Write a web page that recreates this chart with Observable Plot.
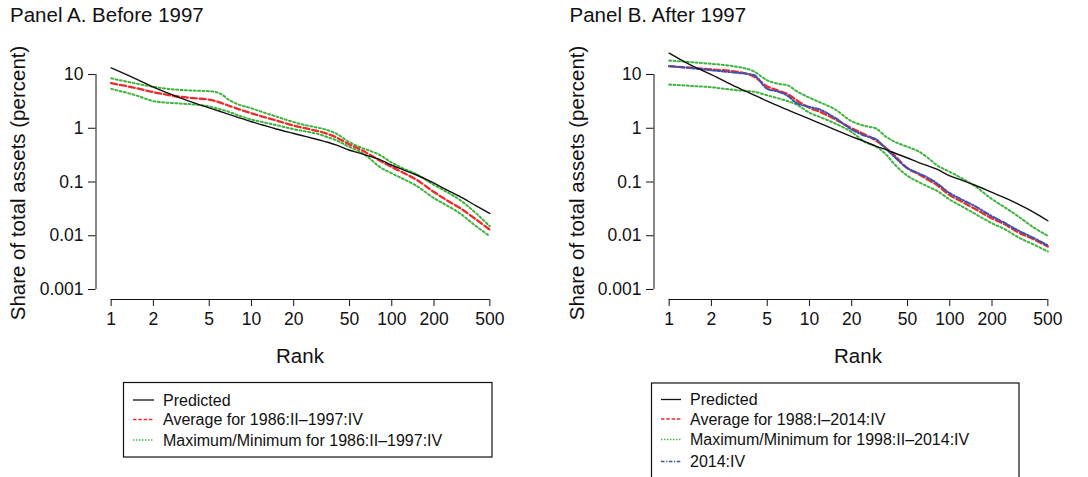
<!DOCTYPE html>
<html>
<head>
<meta charset="utf-8">
<script src="https://cdn.jsdelivr.net/npm/d3@7"></script>
<script src="https://cdn.jsdelivr.net/npm/@observablehq/plot@0.6"></script>
<style>
  body { margin: 0; background: white; }
  #root { position: relative; width: 1088px; height: 477px; overflow: hidden; background: white; }
  #A, #B { position: absolute; top: 0; }
  #A { left: 0; }
  #B { left: 544px; }
  #overlay { position: absolute; left: 0; top: 0; pointer-events: none; }
  svg text { font-family: "Liberation Sans", Arial, Helvetica, sans-serif; }
</style>
</head>
<body>
<div id="root">
  <div id="A"></div>
  <div id="B"></div>
  <svg id="overlay" width="1088" height="477"></svg>
</div>
<script>
// ---- data ----
const ranks = [1, 1.5, 2, 3, 4, 5, 6, 7, 8, 10, 12, 15, 20, 25, 30, 35, 40, 50, 60, 70, 80, 100, 120, 150, 200, 250, 300, 400, 500];

const predictedA = [13.3, 8.3, 5.8, 3.8, 2.9, 2.4, 2.05, 1.8, 1.6, 1.32, 1.15, 0.97, 0.8, 0.69, 0.61, 0.55, 0.49, 0.39, 0.34, 0.3, 0.27, 0.205, 0.17, 0.135, 0.095, 0.07, 0.055, 0.036, 0.026];
const averageA   = [6.9, 5.6, 4.7, 3.9, 3.6, 3.4, 3.0, 2.6, 2.3, 1.9, 1.65, 1.4, 1.12, 0.98, 0.88, 0.78, 0.68, 0.5, 0.4, 0.32, 0.26, 0.19, 0.15, 0.11, 0.065, 0.045, 0.034, 0.02, 0.013];
const maxA       = [8.5, 6.8, 5.9, 5.2, 5.0, 4.9, 4.4, 3.3, 2.8, 2.35, 2.0, 1.65, 1.3, 1.12, 1.02, 0.92, 0.8, 0.55, 0.44, 0.38, 0.33, 0.23, 0.18, 0.14, 0.088, 0.064, 0.048, 0.026, 0.015];
const minA       = [5.4, 4.1, 3.2, 2.9, 2.75, 2.55, 2.25, 2.0, 1.75, 1.45, 1.3, 1.15, 0.96, 0.86, 0.78, 0.68, 0.6, 0.45, 0.36, 0.27, 0.2, 0.145, 0.115, 0.085, 0.05, 0.036, 0.027, 0.015, 0.0098];

const predictedB = [25, 14, 10, 5.9, 4.2, 3.2, 2.6, 2.2, 1.9, 1.5, 1.22, 0.95, 0.7, 0.56, 0.46, 0.4, 0.35, 0.28, 0.23, 0.2, 0.175, 0.13, 0.11, 0.088, 0.064, 0.05, 0.04, 0.027, 0.019];
const averageB   = [14.3, 13.2, 12.4, 11.3, 9.2, 6.0, 5.0, 4.3, 3.4, 2.4, 2.0, 1.5, 1.0, 0.76, 0.58, 0.43, 0.32, 0.18, 0.14, 0.11, 0.09, 0.057, 0.044, 0.032, 0.021, 0.016, 0.012, 0.0085, 0.0063];
const latestB    = [14.3, 13.0, 12.0, 10.8, 9.8, 5.4, 4.8, 4.0, 3.0, 2.5, 2.2, 1.6, 0.95, 0.72, 0.62, 0.42, 0.3, 0.18, 0.145, 0.12, 0.097, 0.062, 0.048, 0.036, 0.023, 0.017, 0.013, 0.009, 0.0066];
const maxB       = [18.2, 16.8, 15.8, 14.0, 11.5, 7.8, 6.7, 6.3, 5.0, 3.7, 3.0, 2.3, 1.35, 1.1, 0.98, 0.7, 0.57, 0.45, 0.37, 0.28, 0.21, 0.155, 0.12, 0.085, 0.048, 0.033, 0.024, 0.014, 0.01];
const minB       = [6.5, 6.1, 5.8, 5.1, 4.8, 4.1, 3.6, 3.2, 2.8, 1.95, 1.6, 1.25, 0.85, 0.55, 0.45, 0.33, 0.22, 0.13, 0.1, 0.082, 0.07, 0.047, 0.036, 0.026, 0.017, 0.013, 0.0097, 0.0068, 0.0051];

const xTicks = [1, 2, 5, 10, 20, 50, 100, 200, 500];
const xTickLabels = ["1", "2", "5", "10", "20", "50", "100", "200", "500"];
const yTicks = [0.001, 0.01, 0.1, 1, 10];
const yTickLabels = ["0.001", "0.01", "0.1", "1", "10"];

const titles = ["Panel A. Before 1997", "Panel B. After 1997"];
const xLabel = "Rank";
const yLabel = "Share of total assets (percent)";
const legendA = ["Predicted", "Average for 1986:II\u20131997:IV", "Maximum/Minimum for 1986:II\u20131997:IV"];
const legendB = ["Predicted", "Average for 1988:I\u20132014:IV", "Maximum/Minimum for 1998:II\u20132014:IV", "2014:IV"];

// ---- styles ----
const COL = { black: "#111", red: "#ee2a2a", green: "#3db53d", blue: "#3a52b0" };
const STY = {
  predicted: { stroke: COL.black, strokeWidth: 1.4 },
  average:   { stroke: COL.red, strokeWidth: 2.3, strokeDasharray: "6,3" },
  minmax:    { stroke: COL.green, strokeWidth: 2, strokeDasharray: "2,2.4" },
  latest:    { stroke: COL.blue, strokeWidth: 2, strokeDasharray: "5,2,1.5,2" }
};

const pad = 0.108; // R's 4% axis extension, in decades of rank
const xDomain = [Math.pow(10, -pad), 500 * Math.pow(10, pad)];
const yDomain = [Math.pow(10, -3.186), Math.pow(10, 1.819)];

function toRows(vals) { return ranks.map((r, i) => ({ rank: r, value: vals[i] })); }

function panel(series, marginLeft, marginRight) {
  const marks = [
    Plot.axisY(yTicks, { tickSize: 7.5, tickPadding: 5, tickFormat: d => yTickLabels[yTicks.indexOf(d)], label: null, fontSize: 17.5 }),
    Plot.axisX(xTicks, { tickSize: 7, text: null, label: null }),
    Plot.text(xTicks, { x: d => d, text: (d, i) => xTickLabels[i], frameAnchor: "bottom", lineAnchor: "top", dy: 13.5, fontSize: 17.5, fill: "#111" }),
    Plot.ruleX([xDomain[0]], { y1: yTicks[0], y2: yTicks[yTicks.length - 1], stroke: "#111", strokeWidth: 1 }),
    Plot.ruleY([yDomain[0]], { x1: xTicks[0], x2: xTicks[xTicks.length - 1], stroke: "#111", strokeWidth: 1 })
  ];
  for (const s of series) {
    marks.push(Plot.line(toRows(s.values), { x: "rank", y: "value", curve: "monotone-x", ...s.style }));
  }
  return Plot.plot({
    width: 544, height: 335,
    marginLeft, marginRight, marginTop: 30, marginBottom: 36,
    x: { type: "log", domain: xDomain },
    y: { type: "log", domain: yDomain },
    style: { fontFamily: "Liberation Sans, Arial, Helvetica, sans-serif", fontSize: "17.5px", color: "#111", background: "transparent", overflow: "visible" },
    marks
  });
}

document.getElementById("A").append(panel([
  { values: maxA, style: STY.minmax },
  { values: minA, style: STY.minmax },
  { values: averageA, style: STY.average },
  { values: predictedA, style: STY.predicted }
], 95.5, 39.5));

document.getElementById("B").append(panel([
  { values: maxB, style: STY.minmax },
  { values: minB, style: STY.minmax },
  { values: averageB, style: STY.average },
  { values: latestB, style: STY.latest },
  { values: predictedB, style: STY.predicted }
], 109.5, 25.5));

// ---- titles, axis labels, legends ----
const ov = d3.select("#overlay");
[[10, titles[0]], [569.5, titles[1]]].forEach(([x, t]) =>
  ov.append("text").attr("x", x).attr("y", 21.7).attr("font-size", 20.5).attr("fill", "#111").text(t));
[300, 858].forEach(cx =>
  ov.append("text").attr("x", cx).attr("y", 363).attr("text-anchor", "middle").attr("font-size", 20.5).attr("fill", "#111").text(xLabel));
[24.8, 583.5].forEach(bx =>
  ov.append("text").attr("transform", `translate(${bx},183) rotate(-90)`).attr("text-anchor", "middle").attr("font-size", 20.5).attr("fill", "#111").text(yLabel));

const legStyles = [
  { stroke: COL.black, w: 1.3, dash: null },
  { stroke: COL.red, w: 1.3, dash: "3.5,1.8" },
  { stroke: COL.green, w: 1.3, dash: "1.4,1.6" },
  { stroke: COL.blue, w: 1.3, dash: "3.5,1.6,1.2,1.6" }
];
function legend(box, lineX, textX, baselines, labels) {
  ov.append("rect").attr("x", box[0]).attr("y", box[1]).attr("width", box[2] - box[0]).attr("height", box[3] - box[1])
    .attr("fill", "none").attr("stroke", "#111").attr("stroke-width", 1.2);
  labels.forEach((lab, i) => {
    const st = legStyles[i];
    const ly = baselines[i] - 5.5;
    const ln = ov.append("line").attr("x1", lineX[0]).attr("x2", lineX[1]).attr("y1", ly).attr("y2", ly)
      .attr("stroke", st.stroke).attr("stroke-width", st.w);
    if (st.dash) ln.attr("stroke-dasharray", st.dash);
    ov.append("text").attr("x", textX).attr("y", baselines[i]).attr("font-size", 16).attr("fill", "#111").text(lab);
  });
}
legend([123.5, 382.5, 492, 457], [133, 154], 163, [405.5, 425, 445.5], legendA);
legend([651.5, 383, 1019, 495], [661, 681], 690, [405, 424.5, 445, 467], legendB);
</script>
</body>
</html>
